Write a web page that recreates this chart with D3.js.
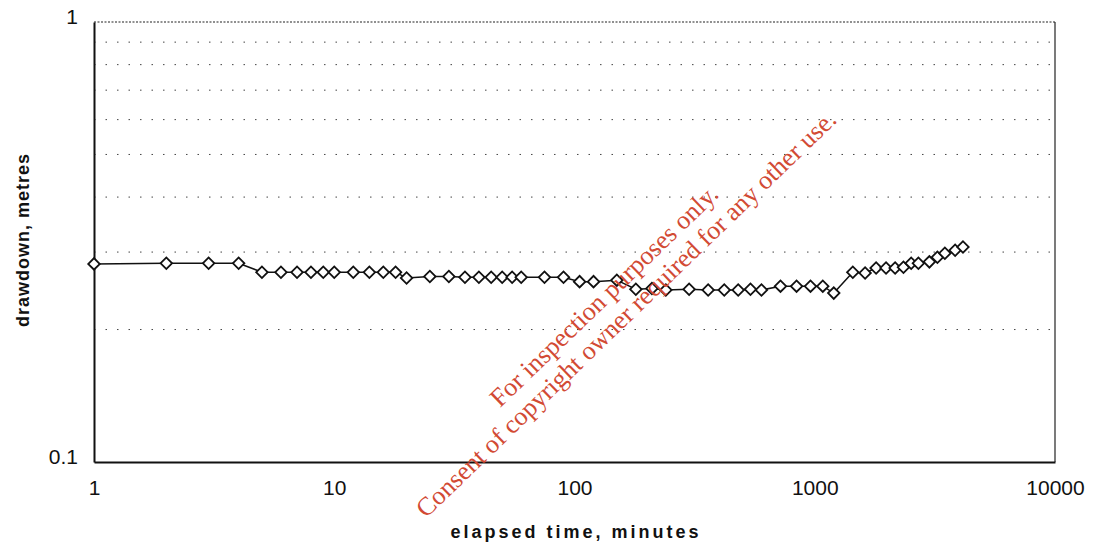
<!DOCTYPE html>
<html>
    <head>
        <meta charset="utf-8">
        <script src="https://cdn.jsdelivr.net/npm/d3@7"></script>
        <style>
            body { margin: 0; background: #fff; }
            text { font-family: Arial, "Liberation Sans", sans-serif; }
        </style>
    </head>
    <body>
        <svg id="chart" width="1093" height="547"></svg>
        <script>
            // elapsed time (minutes) and drawdown (metres)
            var times = [1, 2, 3, 4, 5, 6, 7, 8, 9, 10, 12, 14, 16, 18, 20, 25, 30, 35, 40, 45, 50, 55, 60, 75, 90,
                         105, 120, 150, 180, 210, 240, 300, 360, 420, 480, 540, 600, 720, 840, 960, 1080, 1200,
                         1440, 1620, 1800, 1980, 2160, 2340, 2520, 2700, 3000, 3240, 3480, 3840, 4140];
            var drawdown = [0.282, 0.283, 0.283, 0.283, 0.270, 0.270, 0.270, 0.270, 0.270, 0.270, 0.270, 0.270, 0.270, 0.270,
                            0.262, 0.264, 0.264, 0.263, 0.263, 0.263, 0.263, 0.263, 0.263, 0.263, 0.263,
                            0.257, 0.257, 0.259, 0.247, 0.248, 0.246, 0.247, 0.246, 0.246, 0.246, 0.247, 0.246,
                            0.251, 0.251, 0.251, 0.251, 0.242,
                            0.270, 0.269, 0.276, 0.276, 0.276, 0.277, 0.283, 0.283, 0.285, 0.292, 0.298, 0.303, 0.308];
            var xTicks = [1, 10, 100, 1000, 10000];
            var yTicks = [0.1, 1];
            var yGrid = [0.2, 0.3, 0.4, 0.5, 0.6, 0.7, 0.8, 0.9];

            function drawChart() {
                var svg = d3.select("#chart");
                var mLeft = 94, mRight = 1055, mTop = 22, mBottom = 462;

                var x = d3.scaleLog().domain([1, 10000]).range([mLeft, mRight]);
                var y = d3.scaleLog().domain([0.1, 1]).range([mBottom, mTop]);

                // dotted grid
                svg.selectAll("line.grid").data(yGrid).enter().append("line")
                    .attr("class", "grid")
                    .attr("x1", mLeft).attr("x2", mRight)
                    .attr("y1", function(d) { return y(d); })
                    .attr("y2", function(d) { return y(d); })
                    .attr("stroke", "#444").attr("stroke-width", 1)
                    .attr("stroke-dasharray", "1.5,10");

                // frame
                svg.append("line").attr("x1", mLeft).attr("x2", mRight).attr("y1", mTop).attr("y2", mTop)
                    .attr("stroke", "#222").attr("stroke-width", 1.2).attr("stroke-dasharray", "2,1.5");
                svg.append("line").attr("x1", mRight).attr("x2", mRight).attr("y1", mTop).attr("y2", mBottom)
                    .attr("stroke", "#222").attr("stroke-width", 1.2);

                var xAxis = svg.append("g").attr("transform", "translate(0," + mBottom + ")")
                    .call(d3.axisBottom(x).tickValues(xTicks).tickSize(0).tickPadding(18).tickFormat(d3.format("d")));
                var yAxis = svg.append("g").attr("transform", "translate(" + mLeft + ",0)")
                    .call(d3.axisLeft(y).tickValues(yTicks).tickSize(0).tickPadding(16).tickFormat(function(d) { return d; }));
                [xAxis, yAxis].forEach(function(a) {
                    a.attr("font-size", 21).attr("font-family", "Arial, 'Liberation Sans', sans-serif");
                    a.select(".domain").attr("stroke", "#111").attr("stroke-width", 2);
                    a.selectAll("text").attr("fill", "#111");
                });
                yAxis.selectAll("text").attr("dy", "0.05em");

                // series
                var pts = times.map(function(t, i) { return [t, drawdown[i]]; });
                svg.append("path").datum(pts)
                    .attr("fill", "none").attr("stroke", "#111").attr("stroke-width", 1.5)
                    .attr("d", d3.line().x(function(d) { return x(d[0]); }).y(function(d) { return y(d[1]); }));

                svg.selectAll("path.pt").data(pts).enter().append("path")
                    .attr("class", "pt")
                    .attr("d", d3.symbol().type(d3.symbolSquare).size(66))
                    .attr("transform", function(d) { return "translate(" + x(d[0]) + "," + y(d[1]) + ") rotate(45)"; })
                    .attr("fill", "#fff").attr("stroke", "#111").attr("stroke-width", 1.8);

                // axis titles
                svg.append("text")
                    .attr("transform", "translate(29,240) rotate(-90)")
                    .attr("text-anchor", "middle").attr("font-size", 18).attr("font-weight", "bold")
                    .attr("letter-spacing", 1).attr("fill", "#111")
                    .text("drawdown, metres");
                svg.append("text")
                    .attr("x", 576).attr("y", 538)
                    .attr("text-anchor", "middle").attr("font-size", 18).attr("font-weight", "bold")
                    .attr("letter-spacing", 3).attr("fill", "#111")
                    .text("elapsed time, minutes");

                // watermark
                var wm = [["For inspection purposes only.", 610, 302], ["Consent of copyright owner required for any other use.", 632, 320]];
                svg.selectAll("text.wm").data(wm).enter().append("text")
                    .attr("class", "wm")
                    .attr("transform", function(d) { return "translate(" + d[1] + "," + d[2] + ") rotate(-44)"; })
                    .attr("text-anchor", "middle")
                    .attr("font-size", 26).attr("fill", "#d24a34")
                    .style("font-family", "'Liberation Serif', 'Times New Roman', serif")
                    .text(function(d) { return d[0]; });
            }

            drawChart();
        </script>
    </body>
</html>
